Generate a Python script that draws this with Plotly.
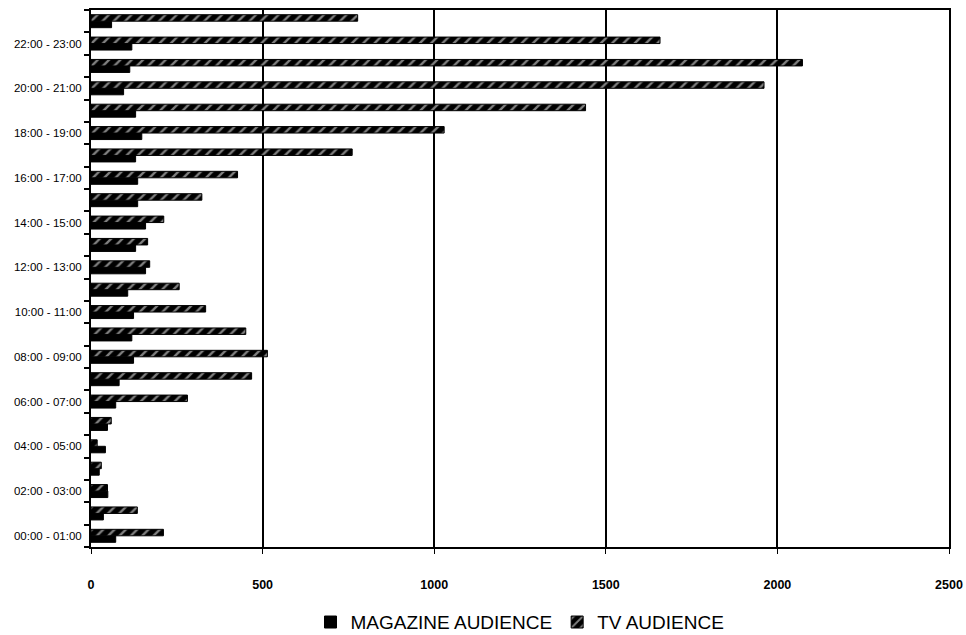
import plotly.graph_objects as go

# Hourly time slots, bottom to top
categories = [
    "00:00 - 01:00", "01:00 - 02:00", "02:00 - 03:00", "03:00 - 04:00",
    "04:00 - 05:00", "05:00 - 06:00", "06:00 - 07:00", "07:00 - 08:00",
    "08:00 - 09:00", "09:00 - 10:00", "10:00 - 11:00", "11:00 - 12:00",
    "12:00 - 13:00", "13:00 - 14:00", "14:00 - 15:00", "15:00 - 16:00",
    "16:00 - 17:00", "17:00 - 18:00", "18:00 - 19:00", "19:00 - 20:00",
    "20:00 - 21:00", "21:00 - 22:00", "22:00 - 23:00", "23:00 - 24:00",
]

magazine_audience = [72, 36, 49, 24, 42, 48, 72, 82, 124, 119, 124, 107,
                     159, 130, 159, 136, 136, 130, 148, 130, 95, 113, 119, 60]

tv_audience = [211, 135, 48, 30, 18, 59, 281, 468, 514, 451, 334, 257,
               171, 165, 212, 323, 427, 761, 1029, 1441, 1961, 2073, 1658, 777]

x_ticks = [0, 500, 1000, 1500, 2000, 2500]

positions = list(range(len(categories)))
label_positions = positions[::2]
label_text = categories[::2]
boundaries = [p + 0.5 for p in positions[:-1]] + [-0.5, len(categories) - 0.5]

fig = go.Figure()

fig.add_trace(go.Bar(
    name="MAGAZINE AUDIENCE",
    y=positions, x=magazine_audience, orientation="h",
    marker=dict(color="black", line=dict(color="black", width=1)),
))

fig.add_trace(go.Bar(
    name="TV AUDIENCE",
    y=positions, x=tv_audience, orientation="h",
    marker=dict(
        color="black",
        line=dict(color="black", width=1),
        pattern=dict(shape="/", fgcolor="white", bgcolor="black",
                     size=8, solidity=0.3),
    ),
))

fig.update_layout(
    width=966, height=635,
    margin=dict(l=91, r=17, t=10, b=88, autoexpand=False),
    paper_bgcolor="white", plot_bgcolor="white",
    barmode="group", bargap=0.42, bargroupgap=0,
    font=dict(family="Liberation Sans, Arial, sans-serif", color="black"),
    showlegend=True,
    legend=dict(
        orientation="h", x=0.5, xanchor="center", y=-0.14, yanchor="middle",
        font=dict(size=19, color="black"), traceorder="normal",
        itemwidth=30,
    ),
    xaxis=dict(
        range=[0, 2500], tickvals=x_ticks,
        ticktext=[f"<b>{v}</b>" for v in x_ticks],
        tickfont=dict(size=12.5), ticks="outside", ticklen=5,
        tickcolor="black", tickwidth=1,
        ticklabelstandoff=20,
        showline=True, linecolor="black", linewidth=2, mirror=True,
        showgrid=True, gridcolor="black", gridwidth=1.5,
        zeroline=False,
    ),
    yaxis=dict(
        range=[-0.5, len(categories) - 0.5],
        tickvals=label_positions, ticktext=label_text,
        tickfont=dict(size=11.5), ticks="", ticklabelstandoff=5,
        minor=dict(tickmode="array", tickvals=boundaries, ticks="outside",
                   ticklen=5, tickcolor="black", tickwidth=1.5, showgrid=False),
        showline=True, linecolor="black", linewidth=2, mirror=True,
        showgrid=False, zeroline=False,
    ),
)

fig.write_html("out.html")
